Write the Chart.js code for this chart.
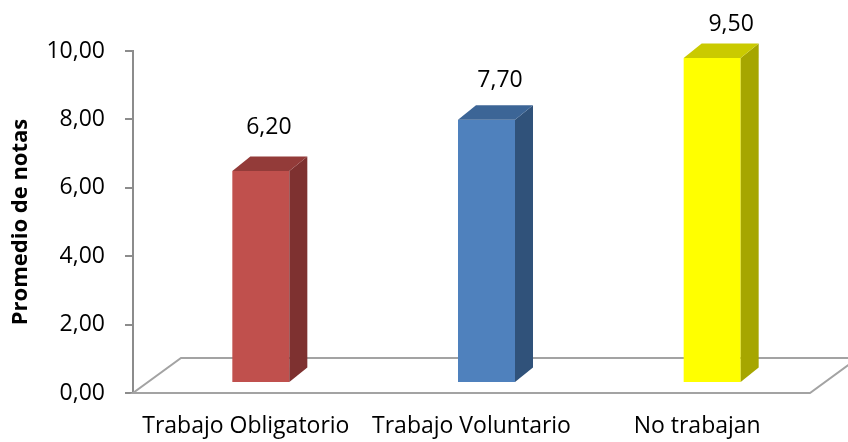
<!DOCTYPE html>
<html>
<head>
<meta charset="utf-8">
<script src="https://cdn.jsdelivr.net/npm/chart.js@4"></script>
<style>
  html, body { margin: 0; padding: 0; background: #fff; }
  canvas { display: block; }
</style>
</head>
<body>
<canvas id="grafico" width="848" height="442"></canvas>
<script>
// Datos
const categorias = ['Trabajo Obligatorio', 'Trabajo Voluntario', 'No trabajan'];
const promedios = [6.2, 7.7, 9.5];
const marcasY = [0, 2, 4, 6, 8, 10];

// Colores de las caras (frente, lado, tapa)
const colorFrente = ['#C0504D', '#4F81BD', '#FFFF00'];
const colorLado = ['#7E3130', '#30527A', '#A6A600'];
const colorTapa = ['#933B39', '#3C6596', '#CACA00'];

const FUENTE = '"Open Sans", "DejaVu Sans", sans-serif';
const GRIS = '#8C8C8C';

// desplazamiento de las barras sobre el piso y profundidad 3D
const SHIFT_X = 15, SHIFT_Y = -10;
const BAR_DX = 18, BAR_DY = -14.5;
const PISO_DX = 48, PISO_DY = -35;

function fmt(v) { return v.toFixed(2).replace('.', ','); }

const barras3D = {
    id: 'barras3D',
    beforeDatasetsDraw(chart) {
        const ctx = chart.ctx;
        const a = chart.chartArea;
        // piso
        ctx.save();
        ctx.strokeStyle = '#A3A3A3';
        ctx.lineWidth = 2;
        ctx.beginPath();
        ctx.moveTo(a.left, a.bottom);
        ctx.lineTo(a.right, a.bottom);
        ctx.lineTo(a.right + PISO_DX, a.bottom + PISO_DY);
        ctx.lineTo(a.left + PISO_DX, a.bottom + PISO_DY);
        ctx.closePath();
        ctx.stroke();
        ctx.restore();
        // frente de las barras desplazado
        ctx.save();
        ctx.translate(SHIFT_X, SHIFT_Y);
    },
    afterDatasetsDraw(chart) {
        const ctx = chart.ctx;
        ctx.restore();
        const meta = chart.getDatasetMeta(0);
        meta.data.forEach((bar, i) => {
            const left = bar.x - bar.width / 2 + SHIFT_X;
            const right = bar.x + bar.width / 2 + SHIFT_X;
            const top = bar.y + SHIFT_Y;
            const bottom = bar.base + SHIFT_Y;

            ctx.save();
            // lado
            ctx.fillStyle = colorLado[i];
            ctx.beginPath();
            ctx.moveTo(right, top);
            ctx.lineTo(right + BAR_DX, top + BAR_DY);
            ctx.lineTo(right + BAR_DX, bottom + BAR_DY);
            ctx.lineTo(right, bottom);
            ctx.closePath();
            ctx.fill();
            // tapa
            ctx.fillStyle = colorTapa[i];
            ctx.beginPath();
            ctx.moveTo(left, top);
            ctx.lineTo(left + BAR_DX, top + BAR_DY);
            ctx.lineTo(right + BAR_DX, top + BAR_DY);
            ctx.lineTo(right, top);
            ctx.closePath();
            ctx.fill();

            // etiqueta de valor
            ctx.fillStyle = '#000';
            ctx.font = '23px ' + FUENTE;
            ctx.textAlign = 'center';
            ctx.textBaseline = 'middle';
            const cx = (left + right) / 2 + 8 + 5.5 * i;
            ctx.fillText(fmt(promedios[i]), cx, top * 0.91 - 28);
            ctx.restore();
        });
    }
};

new Chart(document.getElementById('grafico'), {
    type: 'bar',
    data: {
        labels: categorias,
        datasets: [{
            data: promedios,
            backgroundColor: colorFrente,
            borderWidth: 0,
            barPercentage: 0.2526,
            categoryPercentage: 1,
            clip: false
        }]
    },
    options: {
        responsive: false,
        animation: false,
        events: [],
        layout: { padding: { top: 51, right: 38, left: 0, bottom: 0 } },
        plugins: {
            legend: { display: false },
            tooltip: { enabled: false }
        },
        scales: {
            x: {
                grid: { display: false, drawTicks: false },
                border: { display: false },
                ticks: {
                    color: '#000',
                    font: { family: FUENTE, size: 23 },
                    padding: 20,
                    maxRotation: 0,
                    autoSkip: false
                },
                afterFit(s) { s.height = 49; }
            },
            y: {
                min: 0,
                max: 10,
                afterBuildTicks(s) { s.ticks = marcasY.map(v => ({ value: v })); },
                grid: {
                    drawOnChartArea: false,
                    drawTicks: true,
                    tickLength: 8,
                    color: GRIS,
                    lineWidth: 2
                },
                border: { display: true, color: GRIS, width: 2 },
                ticks: {
                    color: '#000',
                    font: { family: FUENTE, size: 23 },
                    padding: 20,
                    callback: v => fmt(v)
                },
                title: {
                    display: true,
                    text: 'Promedio de notas',
                    color: '#000',
                    font: { family: FUENTE, size: 22, weight: 'bold' },
                    padding: { top: 8, bottom: 0 }
                },
                afterFit(s) { s.width = 133; }
            }
        }
    },
    plugins: [barras3D]
});
</script>
</body>
</html>
